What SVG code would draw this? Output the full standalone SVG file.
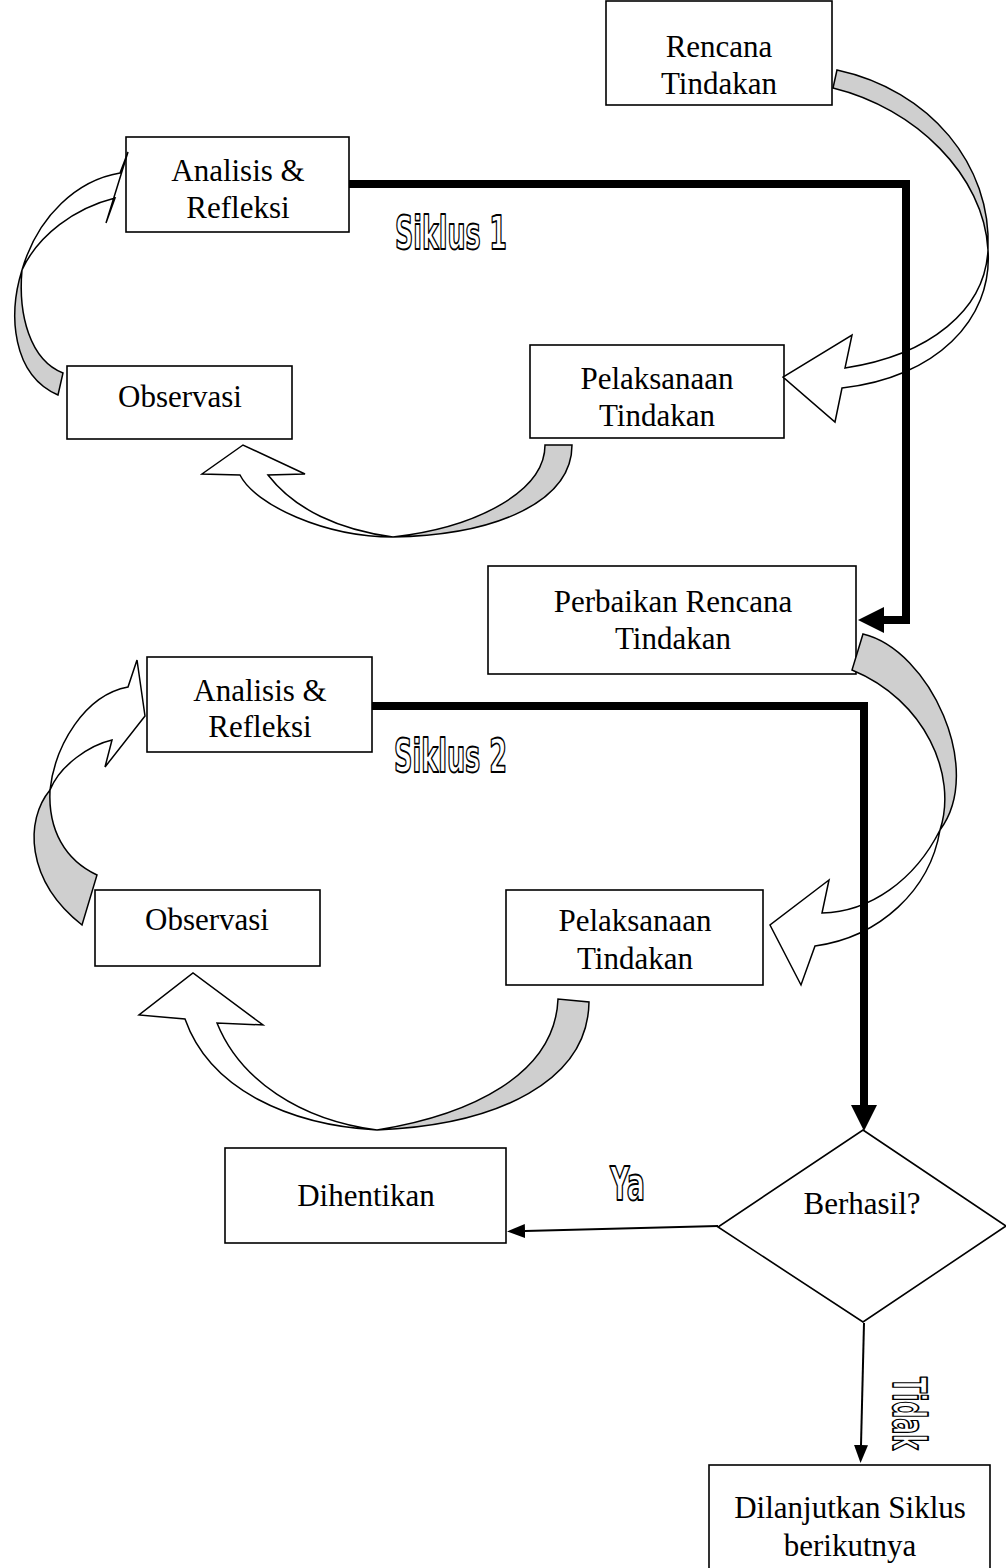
<svg xmlns="http://www.w3.org/2000/svg" width="1006" height="1568" viewBox="0 0 1006 1568">
<style>
.box{fill:#fff;stroke:#000;stroke-width:1.6}
.lbl{font-family:"Liberation Serif","Times New Roman",serif;font-size:31px;fill:#000;text-anchor:middle}
.shade{fill:#cfcfcf;stroke:#000;stroke-width:1.5;stroke-linejoin:miter}
.face{fill:#fff;stroke:#000;stroke-width:1.5;stroke-linejoin:miter}
.thick{fill:none;stroke:#000;stroke-width:8;stroke-linejoin:miter}
.thin{fill:none;stroke:#000;stroke-width:2}
.outline{font-family:"DejaVu Sans Condensed","Liberation Sans Narrow","Liberation Sans",sans-serif;font-weight:bold;font-size:46px;fill:#fff;stroke:#000;stroke-width:1.8;stroke-linejoin:round}
</style>
<defs>
<marker id="headThick" markerUnits="userSpaceOnUse" markerWidth="26" markerHeight="26" viewBox="0 0 26 26" refX="0" refY="13" orient="auto">
<path d="M0,0 L26,13 L0,26 z" fill="#000"/>
</marker>
<marker id="headThin" markerUnits="userSpaceOnUse" markerWidth="18" markerHeight="14" viewBox="0 0 18 14" refX="0" refY="7" orient="auto">
<path d="M0,0 L18,7 L0,14 z" fill="#000"/>
</marker>
</defs>

<g id="rencana">
<rect class="box" x="606" y="1" width="226" height="104"/>
<text class="lbl" x="719" y="57">Rencana</text>
<text class="lbl" x="719" y="94">Tindakan</text>
</g>
<g id="analisis1">
<rect class="box" x="126" y="137" width="223" height="95"/>
<text class="lbl" x="238" y="181">Analisis &amp;</text>
<text class="lbl" x="238" y="218">Refleksi</text>
</g>
<g id="observasi1">
<rect class="box" x="67" y="366" width="225" height="73"/>
<text class="lbl" x="180" y="407">Observasi</text>
</g>
<g id="pelaksanaan1">
<rect class="box" x="530" y="345" width="254" height="93"/>
<text class="lbl" x="657" y="389">Pelaksanaan</text>
<text class="lbl" x="657" y="426">Tindakan</text>
</g>
<g id="perbaikan">
<rect class="box" x="488" y="566" width="368" height="108"/>
<text class="lbl" x="673" y="612">Perbaikan Rencana</text>
<text class="lbl" x="673" y="649">Tindakan</text>
</g>
<g id="analisis2">
<rect class="box" x="147" y="657" width="225" height="95"/>
<text class="lbl" x="260" y="701">Analisis &amp;</text>
<text class="lbl" x="260" y="737">Refleksi</text>
</g>
<g id="observasi2">
<rect class="box" x="95" y="890" width="225" height="76"/>
<text class="lbl" x="207" y="930">Observasi</text>
</g>
<g id="pelaksanaan2">
<rect class="box" x="506" y="890" width="257" height="95"/>
<text class="lbl" x="635" y="931">Pelaksanaan</text>
<text class="lbl" x="635" y="969">Tindakan</text>
</g>
<g id="berhasil">
<polygon class="box" points="863,1130 1006,1226 863,1322 718,1227"/>
<text class="lbl" x="862" y="1214">Berhasil?</text>
</g>
<g id="dihentikan">
<rect class="box" x="225" y="1148" width="281" height="95"/>
<text class="lbl" x="366" y="1206">Dihentikan</text>
</g>
<g id="dilanjutkan">
<rect class="box" x="709" y="1465" width="281" height="110"/>
<text class="lbl" x="850" y="1518">Dilanjutkan Siklus</text>
<text class="lbl" x="850" y="1556">berikutnya</text>
</g>

<g id="cycle-arrows">
<path class="shade" d="M837,70 C930,90 992,165 988,250 C984,175 915,108 833,88 Z"/>
<path class="face" d="M988,250 C985,310 930,355 845,368 L852,335 L783,377 L835,422 L842,388 C935,378 993,320 988,250 Z"/>
<path class="shade" d="M572,445 C572,500 500,535 393,537 C480,527 545,490 545,445 Z"/>
<path class="face" d="M393,537 C325,537 255,505 240,475 L202,474 L243,445 L305,474 L268,475 C295,510 340,530 393,537 Z"/>
<path class="shade" d="M22,270 C8,315 12,375 58,395 L63,373 C30,360 18,315 22,270 Z"/>
<path class="face" d="M22,270 C38,215 78,180 120,173 L128,152 L106,223 L115,198 C75,208 38,235 22,270 Z"/>
<path class="shade" d="M863,634 C930,650 985,770 940,830 C958,775 925,700 852,670 Z"/>
<path class="face" d="M940,830 C915,880 870,912 822,913 L829,880 L770,925 L801,985 L815,946 C880,937 930,890 940,830 Z"/>
<path class="shade" d="M589,1002 C588,1080 500,1125 377,1130 C470,1115 555,1075 558,999 Z"/>
<path class="face" d="M377,1130 C290,1125 210,1090 185,1019 L139,1015 L193,973 L263,1025 L217,1023 C240,1080 300,1120 377,1130 Z"/>
<path class="shade" d="M50,790 C25,820 25,880 82,925 L97,875 C65,860 48,830 50,790 Z"/>
<path class="face" d="M50,790 C55,745 85,695 128,687 L137,660 L145,716 L105,767 L112,740 C90,745 60,765 50,790 Z"/>
</g>

<g id="connectors">
<path class="thick" d="M349,184 H906 V620 H884" marker-end="url(#headThick)"/>
<path class="thick" d="M372,706 H864 V1105" marker-end="url(#headThick)"/>
<path class="thin" d="M718,1226 L525,1231" marker-end="url(#headThin)"/>
<path class="thin" d="M864,1323 L861,1445" marker-end="url(#headThin)"/>
</g>

<g id="labels">
<text class="outline" x="395" y="249" textLength="112" lengthAdjust="spacingAndGlyphs">Siklus 1</text>
<text class="outline" x="394" y="772" textLength="113" lengthAdjust="spacingAndGlyphs">Siklus 2</text>
<text class="outline" x="610" y="1200" textLength="35" lengthAdjust="spacingAndGlyphs">Ya</text>
<text class="outline" transform="translate(893,1377) rotate(90)" x="0" y="0" textLength="73" lengthAdjust="spacingAndGlyphs">Tidak</text>
</g>
</svg>
